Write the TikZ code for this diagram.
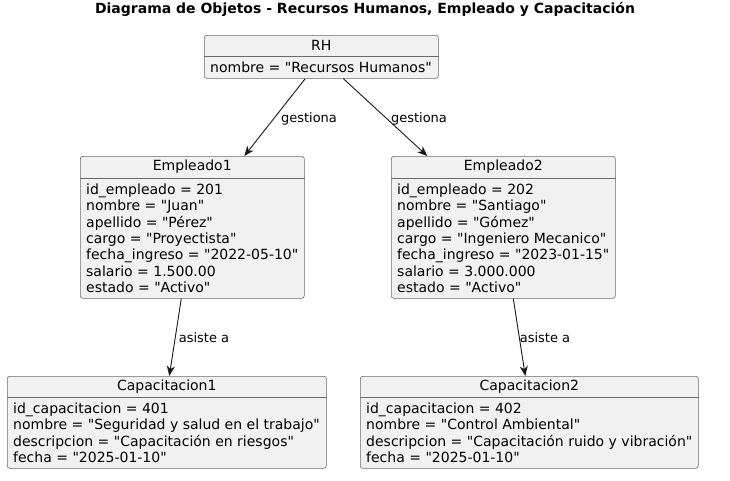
\documentclass[tikz,border=0pt]{standalone}
\usepackage{fontspec}
\setmainfont{DejaVu Sans}[Ligatures=TeXOff]
\usetikzlibrary{arrows.meta}
\definecolor{boxfill}{HTML}{F1F1F1}
\definecolor{boxline}{HTML}{181818}
\tikzset{
  objbox/.style={draw=boxline!65, line width=0.6pt, fill=boxfill, rounded corners=2.5pt, inner sep=0pt, anchor=north west},
  hdr/.style={font=\fontsize{14}{16.5}\selectfont, inner sep=0pt},
  body/.style={font=\fontsize{14}{16.4}\selectfont, align=left, inner sep=0pt, anchor=north west},
  divider/.style={draw=boxline!65, line width=0.6pt},
  conn/.style={draw=boxline, line width=0.9pt, -{Stealth[length=10pt,width=8pt,inset=3pt]}},
  lbl/.style={font=\fontsize{13}{15}\selectfont, inner sep=0pt},
  ttl/.style={font=\bfseries\fontsize{14}{16}\selectfont, inner sep=0pt}
}
\begin{document}
\begin{tikzpicture}[x=1pt,y=-1pt]
\useasboundingbox (0,0) rectangle (730,480);
\node[ttl] (title) at (365,9) {Diagrama de Objetos - Recursos Humanos, Empleado y Capacitación};

% RH
\node[objbox, minimum width=234pt, minimum height=43pt] (RH) at (204,35) {};
\draw[divider] ([yshift=-21pt]RH.north west) -- ([yshift=-21pt]RH.north east);
\node[hdr] (RHh) at ([yshift=-10.5pt]RH.north) {RH};
\node[body] (RHb) at ([xshift=6pt,yshift=-26.5pt]RH.north west) {nombre = "Recursos Humanos"};

% Empleado1
\node[objbox, minimum width=224pt, minimum height=142pt] (E1) at (80,156) {};
\draw[divider] ([yshift=-22pt]E1.north west) -- ([yshift=-22pt]E1.north east);
\node[hdr] (E1h) at ([yshift=-11pt]E1.north) {Empleado1};
\node[body] (E1b) at ([xshift=6pt,yshift=-27.5pt]E1.north west) {id\_empleado = 201\\nombre = "Juan"\\apellido = "Pérez"\\cargo = "Proyectista"\\fecha\_ingreso = "2022-05-10"\\salario = 1.500.00\\estado = "Activo"};

% Empleado2
\node[objbox, minimum width=224pt, minimum height=142pt] (E2) at (391,156) {};
\draw[divider] ([yshift=-22pt]E2.north west) -- ([yshift=-22pt]E2.north east);
\node[hdr] (E2h) at ([yshift=-11pt]E2.north) {Empleado2};
\node[body] (E2b) at ([xshift=6pt,yshift=-27.5pt]E2.north west) {id\_empleado = 202\\nombre = "Santiago"\\apellido = "Gómez"\\cargo = "Ingeniero Mecanico"\\fecha\_ingreso = "2023-01-15"\\salario = 3.000.000\\estado = "Activo"};

% Capacitacion1
\node[objbox, minimum width=319pt, minimum height=92pt] (C1) at (7,376) {};
\draw[divider] ([yshift=-21pt]C1.north west) -- ([yshift=-21pt]C1.north east);
\node[hdr] (C1h) at ([yshift=-10.5pt]C1.north) {Capacitacion1};
\node[body] (C1b) at ([xshift=6pt,yshift=-26.5pt]C1.north west) {id\_capacitacion = 401\\nombre = "Seguridad y salud en el trabajo"\\descripcion = "Capacitación en riesgos"\\fecha = "2025-01-10"};

% Capacitacion2
\node[objbox, minimum width=338pt, minimum height=92pt] (C2) at (360,376) {};
\draw[divider] ([yshift=-21pt]C2.north west) -- ([yshift=-21pt]C2.north east);
\node[hdr] (C2h) at ([yshift=-10.5pt]C2.north) {Capacitacion2};
\node[body] (C2b) at ([xshift=6pt,yshift=-26.5pt]C2.north west) {id\_capacitacion = 402\\nombre = "Control Ambiental"\\descripcion = "Capacitación ruido y vibración"\\fecha = "2025-01-10"};

% connectors
\draw[conn] ([xshift=-16pt]RH.south) -- ([xshift=52pt]E1.north);
\draw[conn] ([xshift=22pt]RH.south) -- ([xshift=-76pt]E2.north);
\draw[conn] ([xshift=-11pt]E1.south) -- ([xshift=2.5pt]C1.north);
\draw[conn] ([xshift=10pt]E2.south) -- ([xshift=-4pt]C2.north);

\node[lbl] (l1) at (309,118.5) {gestiona};
\node[lbl] (l2) at (419,118.5) {gestiona};
\node[lbl] (l3) at (204,337.5) {asiste a};
\node[lbl] (l4) at (545,337.5) {asiste a};
\end{tikzpicture}
\end{document}
